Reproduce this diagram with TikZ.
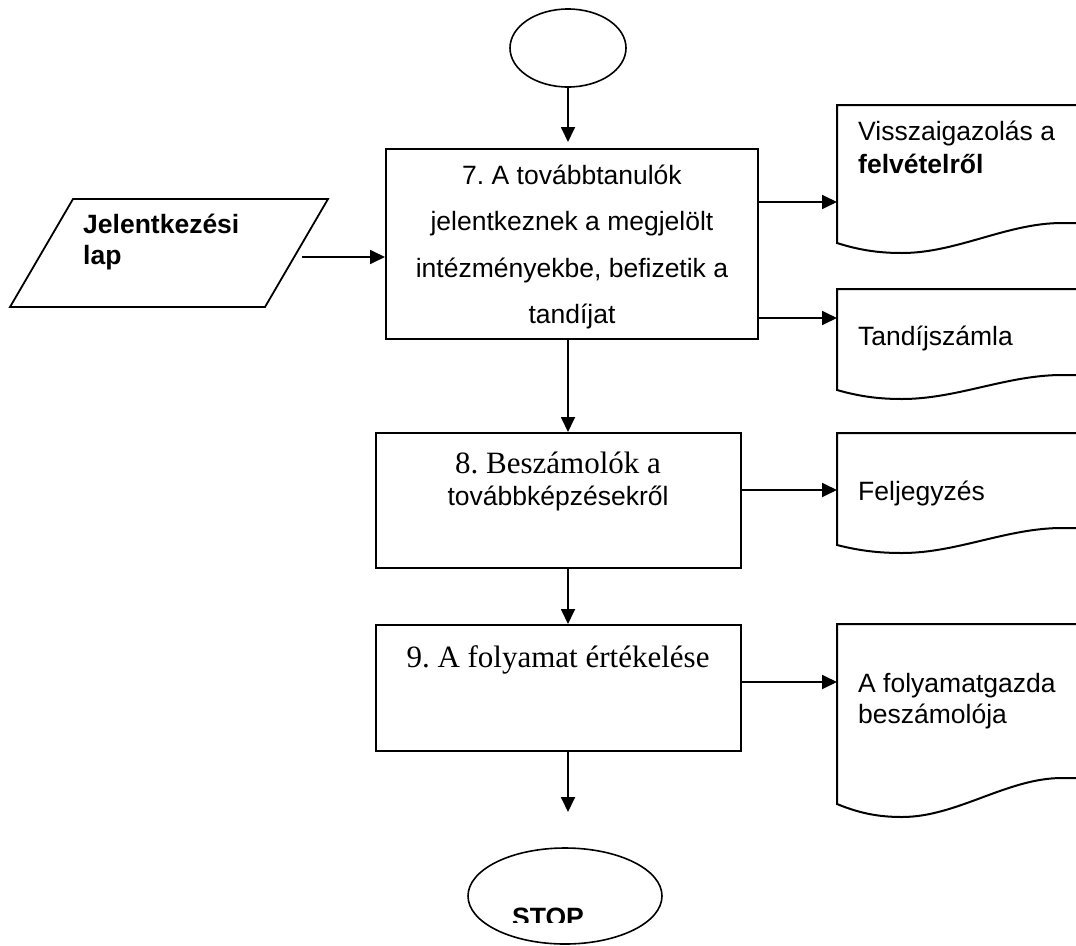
\documentclass[tikz,border=0pt]{standalone}
\usepackage{fontspec}
\setmainfont{Liberation Serif}
\newfontfamily\arialfont{Liberation Sans}
\usetikzlibrary{arrows.meta,shapes.geometric}
\frenchspacing

% Document symbol: left x, top y, bottom-left y, dip of the wave, rise of the wave
\newcommand{\flowdoc}[5]{%
  \draw[docline] (1100,#2) -- (#1,#2) -- (#1,#3)
    .. controls ({#1+25},{#3+0.8*#4}) and ({#1+45},{#3+#4}) .. ({#1+65},{#3+#4})
    .. controls ({#1+120},{#3+#4}) and ({#1+170},{#3-#5}) .. ({#1+225},{#3-#5})
    -- (1100,{#3-#5});
}

\tikzset{
  proc/.style={draw, rectangle, line width=2pt, inner sep=0pt},
  term/.style={draw, ellipse, line width=1.6pt, inner sep=0pt},
  arr/.style={line width=1.8pt, -{Triangle[length=15pt,width=14pt]}},
  docline/.style={draw, line width=2pt, line join=miter},
  sans/.style={font=\arialfont\fontsize{26.5}{30}\selectfont, inner sep=0pt},
  sansb/.style={font=\arialfont\bfseries\fontsize{26.5}{30}\selectfont, inner sep=0pt},
  serif/.style={font=\fontsize{31}{36}\selectfont, inner sep=0pt},
}

\begin{document}
\begin{tikzpicture}[x=1pt,y=-1pt]
\useasboundingbox (0,0) rectangle (1076,945);
\fill[white] (0,0) rectangle (1076,945);
\clip (0,0) rectangle (1076,945);

% start terminal
\node[term, minimum width=116pt, minimum height=78pt] (start) at (568,48) {};

% process steps
\node[proc, minimum width=372pt, minimum height=190pt] (p7) at (572,244) {};
\node[proc, minimum width=365pt, minimum height=135pt] (p8) at (558.5,500.5) {};
\node[proc, minimum width=365pt, minimum height=126pt] (p9) at (558.5,688) {};

% step texts
\begin{scope}
  \clip (390,152) rectangle (755,328);
  \node[sans, anchor=base] (t7a) at (572,184) {7. A továbbtanulók};
  \node[sans, anchor=base] (t7b) at (572,230.5) {jelentkeznek a megjelölt};
  \node[sans, anchor=base] (t7c) at (572,277) {intézményekbe, befizetik a};
  \node[sans, anchor=base] (t7d) at (572,323.5) {tandíjat};
\end{scope}
\node[serif, anchor=base] (t8a) at (558,473) {8. Beszámolók a};
\node[sans, anchor=base] (t8b) at (558,505) {továbbképzésekről};
\node[serif, anchor=base] (t9) at (558,667) {9. A folyamat értékelése};

% input form (parallelogram)
\coordinate (f1) at (73,199);
\coordinate (f2) at (328,199);
\coordinate (f3) at (265,307);
\coordinate (f4) at (10,307);
\draw[line width=1.8pt, line join=miter] (f1) -- (f2) -- (f3) -- (f4) -- cycle;
\node[sansb, anchor=base west] (in1) at (83,233) {Jelentkezési};
\node[sansb, anchor=base west] (in2) at (83,264) {lap};
\coordinate (pr) at (302,257);

% output documents
\flowdoc{837}{105}{243}{10}{20}
\flowdoc{837}{289}{390}{9}{15}
\flowdoc{837}{433}{545}{8}{17}
\flowdoc{837}{624}{804}{13}{26}
\coordinate (a1) at (837,202);
\coordinate (a2) at (837,318);
\coordinate (a3) at (837,490);
\coordinate (a4) at (837,682);
\node[sans, anchor=base west] (d1a) at (858,140) {Visszaigazolás a};
\node[sansb, anchor=base west] (d1b) at (858,173) {felvételről};
\node[sans, anchor=base west] (d2) at (858,345) {Tandíjszámla};
\node[sans, anchor=base west] (d3) at (858,500) {Feljegyzés};
\node[sans, anchor=base west] (d4a) at (858,692) {A folyamatgazda};
\node[sans, anchor=base west] (d4b) at (858,723) {beszámolója};

% stop terminal
\node[term, minimum width=194pt, minimum height=96pt] (stop) at (565,896) {};
\begin{scope}
  \clip (400,850) rectangle (700,922);
  \node[sansb, anchor=base] (stoptext) at (548,926.5) {STOP};
\end{scope}
\coordinate (endarrow) at (568,812);

% main flow
\draw[arr, shorten >=6pt] (start.south) -- (start.south |- p7.north);
\draw[arr] (p7.south -| start.south) -- (p8.north -| start.south);
\draw[arr] (p8.south -| start.south) -- (p9.north -| start.south);
\draw[arr] (p9.south -| start.south) -- (endarrow);

% input and outputs
\draw[arr] (pr) -- (pr -| p7.west);
\draw[arr] (p7.east |- a1) -- (a1);
\draw[arr] (p7.east |- a2) -- (a2);
\draw[arr] (p8.east |- a3) -- (a3);
\draw[arr] (p9.east |- a4) -- (a4);
\end{tikzpicture}
\end{document}
